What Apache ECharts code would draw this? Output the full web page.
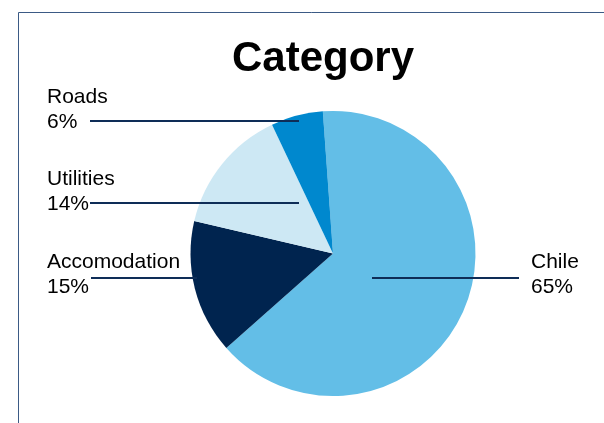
<!DOCTYPE html>
<html>
<head>
<meta charset="utf-8">
<script src="https://cdn.jsdelivr.net/npm/echarts@6/dist/echarts.min.js"></script>
<style>
html,body{margin:0;padding:0;background:#fff;}
#main{width:604px;height:423px;}
</style>
</head>
<body>
<div id="main"></div>
<script>
// Data
var categories = ['Chile', 'Accomodation', 'Utilities', 'Roads'];
var values = [64.6, 15.2, 14.3, 5.9];
var colors = ['#63BEE7', '#00244F', '#CDE8F4', '#0088CE'];
var chartTitle = 'Category';

// Label placement (style): text box left/top, alignment, leader line start/end x and y
var labelPlace = [
  {x: 531, y: 250, align: 'left',  lineY: 278, lineFrom: 519, lineTo: 372},
  {x: 47,  y: 250, align: 'left',  lineY: 278, lineFrom: 91,  lineTo: 197},
  {x: 47,  y: 167, align: 'left',  lineY: 203, lineFrom: 90,  lineTo: 299},
  {x: 47,  y: 85,  align: 'left',  lineY: 121, lineFrom: 90,  lineTo: 299}
];

var chart = echarts.init(document.getElementById('main'), null, {renderer: 'canvas'});
var FONT = 'Liberation Sans, Arial, Helvetica, sans-serif';

var pieBase = {
  type: 'pie',
  center: [333, 253.5],
  radius: 142.5,
  startAngle: 94.1,
  clockwise: true,
  silent: true,
  avoidLabelOverlap: false
};

chart.setOption({
  animation: false,
  backgroundColor: '#fff',
  title: {
    text: chartTitle,
    left: 318,
    top: 33,
    textAlign: 'center',
    textStyle: {fontFamily: FONT, fontSize: 42, fontWeight: 'bold', color: '#000'}
  },
  graphic: [{
    type: 'rect',
    shape: {x: 18.5, y: 12.5, width: 700, height: 600},
    style: {fill: null, stroke: '#3B5A85', lineWidth: 1},
    silent: true
  }],
  series: [
    Object.assign({}, pieBase, {
      z: 2,
      data: categories.map(function (c, i) {
        return {name: c, value: values[i], itemStyle: {color: colors[i]}};
      }),
      label: {show: false},
      labelLine: {show: false}
    }),
    Object.assign({}, pieBase, {
      z: 5,
      data: categories.map(function (c, i) {
        return {name: c, value: values[i], itemStyle: {color: 'rgba(0,0,0,0)'}};
      }),
      label: {
        show: true,
        position: 'outside',
        fontFamily: FONT,
        fontSize: 21,
        lineHeight: 25,
        color: '#000',
        formatter: function (p) { return p.name + '\n' + Math.round(p.percent) + '%'; }
      },
      labelLine: {
        show: true,
        length: 10,
        length2: 10,
        lineStyle: {color: '#0E2D57', width: 2}
      },
      labelLayout: function (params) {
        var lp = labelPlace[params.dataIndex];
        return {
          x: lp.x,
          y: lp.y,
          align: lp.align,
          verticalAlign: 'top',
          labelLinePoints: [[lp.lineFrom, lp.lineY], [lp.lineTo, lp.lineY], [lp.lineTo, lp.lineY]]
        };
      }
    })
  ]
});
</script>
</body>
</html>
